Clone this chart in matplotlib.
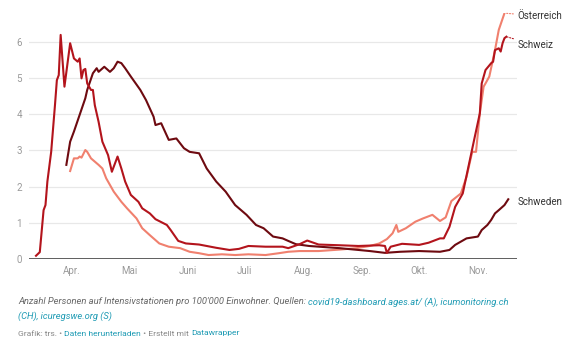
import numpy as np
import pandas as pd
import matplotlib
matplotlib.use("Agg")
import matplotlib.pyplot as plt
import matplotlib.dates as mdates

plt.rcParams['font.family'] = ['Roboto', 'DejaVu Sans']

# Schweiz (icumonitoring.ch)
ch_dates = ["2020-03-13", "2020-03-15", "2020-03-17", "2020-03-18", "2020-03-19", "2020-03-21",
            "2020-03-23", "2020-03-24", "2020-03-25", "2020-03-26", "2020-03-28", "2020-03-31",
            "2020-04-02", "2020-04-04", "2020-04-05", "2020-04-06", "2020-04-07", "2020-04-08",
            "2020-04-09", "2020-04-11", "2020-04-12", "2020-04-13", "2020-04-15", "2020-04-17",
            "2020-04-20", "2020-04-22", "2020-04-25", "2020-04-27", "2020-04-29", "2020-05-02",
            "2020-05-06", "2020-05-08", "2020-05-12", "2020-05-15", "2020-05-21", "2020-05-23",
            "2020-05-27", "2020-05-31", "2020-06-07", "2020-06-16", "2020-06-23", "2020-06-28",
            "2020-07-03", "2020-07-12", "2020-07-21", "2020-07-24", "2020-07-30", "2020-08-03",
            "2020-08-09", "2020-08-20", "2020-08-30", "2020-09-10", "2020-09-13", "2020-09-14",
            "2020-09-16", "2020-09-22", "2020-10-01", "2020-10-06", "2020-10-12", "2020-10-14",
            "2020-10-17", "2020-10-20", "2020-10-24", "2020-10-27", "2020-10-30", "2020-11-02",
            "2020-11-03", "2020-11-05", "2020-11-08", "2020-11-09", "2020-11-10", "2020-11-12",
            "2020-11-13", "2020-11-14", "2020-11-15", "2020-11-16"]
ch_values = [0.09, 0.19, 1.35, 1.49, 2.14, 2.96,
             4.25, 4.94, 5.08, 6.19, 4.76, 5.96,
             5.54, 5.45, 5.54, 4.99, 5.22, 5.25,
             4.85, 4.67, 4.67, 4.25, 3.79, 3.24,
             2.87, 2.41, 2.83, 2.50, 2.14, 1.77,
             1.58, 1.40, 1.26, 1.10, 0.94, 0.80,
             0.50, 0.43, 0.40, 0.31, 0.25, 0.28,
             0.36, 0.34, 0.34, 0.30, 0.41, 0.51,
             0.40, 0.38, 0.36, 0.38, 0.36, 0.17,
             0.34, 0.42, 0.39, 0.45, 0.57, 0.57,
             0.89, 1.44, 1.81, 2.55, 3.29, 4.02,
             4.85, 5.22, 5.41, 5.45, 5.77, 5.82,
             5.73, 5.96, 6.10, 6.14]

# Österreich (covid19-dashboard.ages.at)
at_dates = ["2020-03-31", "2020-04-02", "2020-04-04", "2020-04-05", "2020-04-06", "2020-04-08",
            "2020-04-09", "2020-04-11", "2020-04-13", "2020-04-15", "2020-04-17", "2020-04-19",
            "2020-04-23", "2020-04-27", "2020-04-30", "2020-05-05", "2020-05-08", "2020-05-12",
            "2020-05-17", "2020-05-22", "2020-05-28", "2020-06-02", "2020-06-07", "2020-06-12",
            "2020-06-19", "2020-06-26", "2020-07-03", "2020-07-12", "2020-07-19", "2020-07-24",
            "2020-07-30", "2020-08-09", "2020-08-20", "2020-08-29", "2020-09-05", "2020-09-10",
            "2020-09-14", "2020-09-17", "2020-09-19", "2020-09-20", "2020-09-24", "2020-09-29",
            "2020-10-03", "2020-10-08", "2020-10-12", "2020-10-15", "2020-10-18", "2020-10-23",
            "2020-10-26", "2020-10-29", "2020-10-31", "2020-11-02", "2020-11-04", "2020-11-05",
            "2020-11-07", "2020-11-10", "2020-11-12", "2020-11-15"]
at_values = [2.43, 2.78, 2.78, 2.83, 2.80, 3.01,
             2.96, 2.78, 2.69, 2.60, 2.50, 2.23,
             1.86, 1.58, 1.40, 1.12, 0.85, 0.66,
             0.43, 0.34, 0.30, 0.20, 0.16, 0.11,
             0.13, 0.11, 0.13, 0.11, 0.16, 0.20,
             0.22, 0.22, 0.26, 0.30, 0.36, 0.43,
             0.55, 0.71, 0.94, 0.75, 0.85, 1.03,
             1.12, 1.22, 1.05, 1.15, 1.60, 1.81,
             2.27, 2.96, 2.96, 4.02, 4.76, 4.85,
             5.04, 5.77, 6.33, 6.79]

# Schweden (icuregswe.org)
se_dates = ["2020-03-29", "2020-03-31", "2020-04-02", "2020-04-05", "2020-04-08", "2020-04-09",
            "2020-04-12", "2020-04-14", "2020-04-15", "2020-04-18", "2020-04-21", "2020-04-23",
            "2020-04-25", "2020-04-27", "2020-04-29", "2020-05-02", "2020-05-07", "2020-05-10",
            "2020-05-14", "2020-05-15", "2020-05-18", "2020-05-22", "2020-05-26", "2020-05-30",
            "2020-06-02", "2020-06-07", "2020-06-11", "2020-06-16", "2020-06-21", "2020-06-26",
            "2020-07-02", "2020-07-07", "2020-07-11", "2020-07-16", "2020-07-21", "2020-07-24",
            "2020-07-28", "2020-08-04", "2020-08-20", "2020-09-05", "2020-09-13", "2020-09-21",
            "2020-10-01", "2020-10-12", "2020-10-17", "2020-10-20", "2020-10-26", "2020-11-01",
            "2020-11-03", "2020-11-06", "2020-11-08", "2020-11-10", "2020-11-12", "2020-11-15",
            "2020-11-17"]
se_values = [2.60, 3.24, 3.52, 3.98, 4.44, 4.67,
             5.13, 5.27, 5.17, 5.31, 5.17, 5.27,
             5.45, 5.41, 5.27, 5.04, 4.67, 4.39,
             3.93, 3.70, 3.75, 3.29, 3.33, 3.06,
             2.96, 2.92, 2.50, 2.14, 1.86, 1.49,
             1.22, 0.94, 0.85, 0.62, 0.57, 0.50,
             0.41, 0.36, 0.30, 0.22, 0.17, 0.20,
             0.22, 0.20, 0.25, 0.39, 0.57, 0.62,
             0.80, 0.94, 1.08, 1.26, 1.35, 1.49,
             1.65]

month_ticks = ["2020-04-01", "2020-05-01", "2020-06-01", "2020-07-01",
               "2020-08-01", "2020-09-01", "2020-10-01", "2020-11-01"]
month_labels = ["Apr.", "Mai", "Juni", "Juli", "Aug.", "Sep.", "Okt.", "Nov."]

c_at = "#f0806e"
c_ch = "#b3141c"
c_se = "#6e0a10"
grey = "#9a9a9a"
teal = "#1f9bb4"

fig = plt.figure(figsize=(5.82, 3.40), dpi=100)
ax = fig.add_axes([0.0498, 0.2382, 0.8385, 0.7241])

ax.plot(pd.to_datetime(at_dates), at_values, color=c_at, lw=1.5, zorder=3)
ax.plot(pd.to_datetime(se_dates), se_values, color=c_se, lw=1.5, zorder=4)
ax.plot(pd.to_datetime(ch_dates), ch_values, color=c_ch, lw=1.5, zorder=5)

apr1 = mdates.date2num(pd.Timestamp("2020-04-01"))
ax.set_xlim(apr1 - 22.7, apr1 + 234.6)
ax.set_ylim(0, 6.8)

for s in ax.spines.values():
    s.set_visible(False)
ax.axhline(0, color="#333333", lw=1.1, zorder=6)
for v in range(1, 7):
    ax.axhline(v, color="#e8e8e8", lw=0.9, zorder=1)

ax.set_yticks(range(0, 7))
ax.set_xticks(pd.to_datetime(month_ticks))
ax.set_xticklabels(month_labels)
ax.tick_params(axis="both", length=0, labelsize=7, labelcolor=grey)
ax.tick_params(axis="x", pad=5)
ax.tick_params(axis="y", pad=5)

# labels at the line ends
end_at = (pd.Timestamp(at_dates[-1]), at_values[-1])
end_ch = (pd.Timestamp(ch_dates[-1]), ch_values[-1])
ax.annotate("Österreich", xy=end_at, xytext=(517.5 / 582, 1 - 16 / 340),
            textcoords="figure fraction", fontsize=7, color="#333333", va="center",
            annotation_clip=False,
            arrowprops=dict(arrowstyle="-", color=c_at, lw=0.8, ls=(0, (1, 1.5)),
                            shrinkA=1, shrinkB=1))
ax.annotate("Schweiz", xy=end_ch, xytext=(517.5 / 582, 1 - 45 / 340),
            textcoords="figure fraction", fontsize=7, color="#333333", va="center",
            annotation_clip=False,
            arrowprops=dict(arrowstyle="-", color=c_ch, lw=0.8, ls=(0, (1, 1.5)),
                            shrinkA=1, shrinkB=1))
ax.text(517.5 / 582, 1 - 202 / 340, "Schweden", transform=fig.transFigure,
        fontsize=7, color="#333333", va="center")

# caption with coloured pieces, all on one baseline per line
renderer = fig.canvas.get_renderer()


def line_of(parts, x0, y, size, style="normal"):
    x = x0
    for txt, col in parts:
        t = fig.text(x, y, txt, color=col, fontsize=size, style=style, va="baseline")
        bb = t.get_window_extent(renderer=renderer)
        x += bb.width / fig.bbox.width


line_of([("Anzahl Personen auf Intensivstationen pro 100'000 Einwohner. Quellen: ", "#666666"),
         ("covid19-dashboard.ages.at/ (A), icumonitoring.ch", teal)],
        18 / 582, 1 - 304.5 / 340, 6.75, "italic")
line_of([("(CH), icuregswe.org (S)", teal)], 18 / 582, 1 - 319 / 340, 6.75, "italic")
line_of([("Grafik: trs. • ", "#888888"), ("Daten herunterladen", teal),
         (" • Erstellt mit ", "#888888"), ("Datawrapper", teal)],
        18 / 582, 1 - 335.5 / 340, 6.1)

fig.savefig("out.png", dpi=100)
